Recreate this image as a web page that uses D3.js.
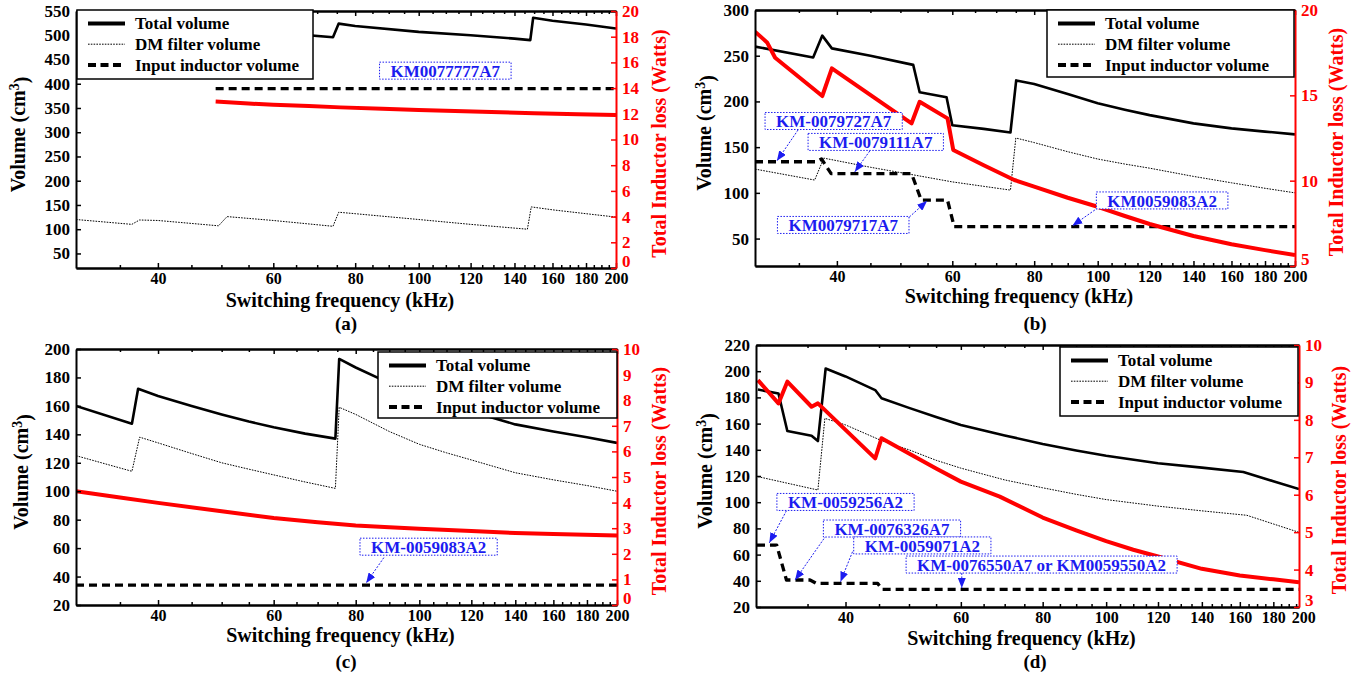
<!DOCTYPE html>
<html>
<head>
<meta charset="utf-8">
<script src="https://cdn.jsdelivr.net/npm/d3@7"></script>
<style>
  body { margin: 0; background: #fff; }
  text { font-family: "Liberation Serif", "Times New Roman", serif; font-weight: bold; }
</style>
</head>
<body>
<div id="chart"></div>
<script>
var svgWidth = 1361;
var svgHeight = 675;

// shared labels
var xTicks = [40, 60, 80, 100, 120, 140, 160, 180, 200];
var legendLabels = ["Total volume", "DM filter volume", "Input inductor volume"];
var xTitle = "Switching frequency (kHz)";
var rightTitle = "Total Inductor loss (Watts)";

// panel (a)  [kHz, cm3] / [kHz, W]
var aTotal = [[49, 497], [50.5, 516], [60, 506], [74, 496], [75.5, 524], [80, 519], [100, 507], [120, 500], [140, 493], [148, 490], [149.5, 536], [160, 530], [180, 522], [200, 514]];
var aDM = [[30, 120], [36.5, 110], [37.5, 119], [40, 118], [49.5, 107], [51, 126], [60, 118], [74, 106], [75.5, 135], [80, 132], [100, 120], [120, 110], [146.5, 100], [148.5, 146], [160, 140], [180, 132], [200, 125]];
var aInd = [[49, 390], [200, 390]];
var aLoss = [[49, 12.95], [55, 12.8], [60, 12.7], [68, 12.6], [76, 12.5], [88, 12.4], [100, 12.3], [125, 12.15], [150, 12.05], [175, 11.97], [200, 11.9]];
var aLeftTicks = [50, 100, 150, 200, 250, 300, 350, 400, 450, 500, 550];
var aRightTicks = [0, 2, 4, 6, 8, 10, 12, 14, 16, 18, 20];
var aNotes = ["KM0077777A7"];

// panel (b)
var bTotal = [[30, 260], [36.8, 248], [38, 272], [39.3, 258], [45, 250], [52.3, 240], [53.5, 210], [58.8, 204.6], [60, 174], [67, 170], [73.6, 166], [75.1, 223], [80, 219], [90, 208], [100, 198], [110, 191], [120, 185], [140, 176], [160, 170.5], [180, 167], [200, 164]];
var bDM = [[30, 126], [37, 114], [38.2, 138], [45, 128], [52.4, 119.6], [60, 112], [73.6, 103], [75, 160], [80, 155], [90, 145], [100, 137], [110, 131.5], [120, 127], [140, 118], [160, 111], [180, 105], [200, 100]];
var bInd = [[30, 134], [37.2, 134], [37.9, 137], [39.2, 121], [52, 121], [53.8, 92], [59, 92], [60.4, 63], [200, 63]];
var bLoss = [[30, 18.73], [31.3, 18.1], [32.2, 17.2], [38, 14.96], [39.3, 16.58], [52, 13.36], [53.5, 14.62], [59, 13.65], [60.2, 11.8], [67, 10.9], [74.6, 10.04], [80, 9.65], [90, 9.0], [100, 8.47], [110, 7.93], [120, 7.46], [140, 6.76], [160, 6.27], [180, 5.93], [200, 5.64]];
var bLeftTicks = [50, 100, 150, 200, 250, 300];
var bRightTicks = [5, 10, 15, 20];
var bNotes = ["KM-0079727A7", "KM-0079111A7", "KM0079717A7", "KM0059083A2"];

// panel (c)
var cTotal = [[30, 160], [36.5, 147.5], [37.3, 172], [40, 167], [45, 160], [50, 154], [55, 149], [60, 145], [67, 140.5], [74.5, 137], [75.5, 193], [80, 187], [90, 176], [100, 167], [110, 161], [120, 156], [140, 147], [160, 142], [180, 138], [200, 134]];
var cDM = [[30, 125], [36.5, 114], [37.5, 138], [40, 134], [45, 126.5], [50, 120], [55, 115.5], [60, 111.5], [67, 106.5], [74.5, 102], [75.5, 159], [80, 154], [90, 142], [100, 133], [110, 127], [120, 122], [140, 113], [160, 108], [180, 104], [200, 100]];
var cInd = [[30, 34], [200, 34]];
var cLoss = [[30, 4.44], [35, 4.2], [40, 3.99], [50, 3.66], [60, 3.4], [70, 3.23], [80, 3.11], [90, 3.04], [100, 2.98], [120, 2.89], [140, 2.81], [160, 2.77], [200, 2.71]];
var cLeftTicks = [20, 40, 60, 80, 100, 120, 140, 160, 180, 200];
var cRightTicks = [0, 1, 2, 3, 4, 5, 6, 7, 8, 9, 10];
var cNotes = ["KM-0059083A2"];

// panel (d)
var dTotal = [[29.4, 186], [31.6, 183], [32.6, 154.4], [35.5, 150.8], [36.3, 146.7], [37.3, 202], [40, 196], [44.4, 185.6], [45.4, 179.3], [50, 172], [55, 165], [60, 159], [70, 151], [80, 144.4], [90, 139.5], [100, 135.5], [120, 129.7], [140, 126.4], [162, 123], [180, 116], [197, 110]];
var dDM = [[29.4, 119.5], [36.3, 109.3], [37.2, 164], [40, 159], [45.4, 147], [50, 140], [55, 132], [60, 126], [70, 117], [80, 111], [90, 106], [100, 102], [120, 97], [140, 93.4], [164, 90], [197, 77]];
var dInd = [[29.3, 67.3], [31.4, 67.3], [32.5, 40.6], [35.3, 40.6], [36.1, 38], [44.8, 38], [45.5, 33.5], [197, 33.5]];
var dLoss = [[29.4, 9.06], [31.6, 8.44], [32.6, 9.02], [35.5, 8.35], [36.3, 8.44], [44.4, 6.97], [45.4, 7.51], [50, 7.1], [55, 6.7], [60, 6.35], [68.8, 5.95], [80, 5.39], [90, 5.05], [100, 4.76], [110, 4.53], [120, 4.35], [140, 4.02], [160, 3.84], [180, 3.74], [197, 3.66]];
var dLeftTicks = [20, 40, 60, 80, 100, 120, 140, 160, 180, 200, 220];
var dRightTicks = [3, 4, 5, 6, 7, 8, 9, 10];
var dNotes = ["KM-0059256A2", "KM-0076326A7", "KM-0059071A2", "KM-0076550A7 or KM0059550A2"];

var blue = "#1c1cf0";

// layout of each panel (pixels) and where the callouts sit (in data units)
var panels = [
  {name: "(a)", total: aTotal, dm: aDM, ind: aInd, loss: aLoss, leftTicks: aLeftTicks, rightTicks: aRightTicks, notes: aNotes,
   xDom: [30, 200], yDom: [20, 550], rDom: [0, 20], x0: 76, x1: 616, y0: 11, y1: 268,
   legend: [77, 10, 236, 69], leftTitleX: 18, rightTitleX: 659, xTitleY: 300, nameX: 346, nameY: 323,
   spots: [{box: [109.8, 427]}]},
  {name: "(b)", total: bTotal, dm: bDM, ind: bInd, loss: bLoss, leftTicks: bLeftTicks, rightTicks: bRightTicks, notes: bNotes,
   xDom: [30, 200], yDom: [20, 300], rDom: [5, 20], x0: 755, x1: 1295, y0: 10, y1: 266,
   legend: [1047, 10, 247, 67], leftTitleX: 704, rightTitleX: 1336, xTitleY: 296, nameX: 1035, nameY: 323,
   spots: [{box: [39.55, 178.6], from: [34.9, 168.8], to: [32.4, 135]},
           {box: [45.85, 155.7], from: [44.9, 145.8], to: [42.6, 123]},
           {box: [40.9, 64.9], from: [51.6, 73.6], to: [54.9, 91.1]},
           {box: [125.4, 91.7], from: [100, 83.5], to: [91.5, 64]}]},
  {name: "(c)", total: cTotal, dm: cDM, ind: cInd, loss: cLoss, leftTicks: cLeftTicks, rightTicks: cRightTicks, notes: cNotes,
   xDom: [30, 200], yDom: [20, 200], rDom: [0, 10], x0: 76, x1: 617, y0: 349, y1: 605,
   legend: [378, 352, 239, 66], leftTitleX: 21, rightTitleX: 659, xTitleY: 635, nameX: 346, nameY: 661,
   spots: [{box: [103.3, 61], from: [88.3, 53.3], to: [83, 35.5]}]},
  {name: "(d)", total: dTotal, dm: dDM, ind: dInd, loss: dLoss, leftTicks: dLeftTicks, rightTicks: dRightTicks, notes: dNotes,
   xDom: [29.2, 197], yDom: [20, 220], rDom: [3, 10], x0: 756, x1: 1299, y0: 345, y1: 607,
   legend: [1060, 347, 238, 69], leftTitleX: 705, rightTitleX: 1339, xTitleY: 638, nameX: 1035, nameY: 661,
   spots: [{box: [40.0, 100.2], from: [32.5, 93.5], to: [30.6, 69]},
           {box: [47.1, 79.9], from: [37.6, 76.5], to: [33.5, 40.6]},
           {box: [52.4, 67], from: [41.0, 62.2], to: [39.3, 39.3]},
           {box: [79.7, 52.4], from: [60.2, 46], to: [60.2, 34.5]}]}
];

var styles = {
  total: {width: 2.6, dash: null, legendWidth: 4},
  dm: {width: 1, dash: "1.6,1.2", legendWidth: 1},
  ind: {width: 3.3, dash: "8,5", legendWidth: 4}
};

var svg = d3.select("#chart")
  .append("svg")
  .attr("width", svgWidth)
  .attr("height", svgHeight);

svg.append("rect")
  .attr("width", svgWidth)
  .attr("height", svgHeight)
  .attr("fill", "white");

var defs = svg.append("defs");
defs.append("marker")
  .attr("id", "arrowHead")
  .attr("viewBox", "0 0 10 8")
  .attr("refX", 10)
  .attr("refY", 4)
  .attr("markerWidth", 10)
  .attr("markerHeight", 8)
  .attr("markerUnits", "userSpaceOnUse")
  .attr("orient", "auto")
  .append("path")
  .attr("d", "M0,0L10,4L0,8Z")
  .attr("fill", blue);

function styleAxis(g, color, size) {
  g.select(".domain").attr("stroke", color).attr("stroke-width", 2);
  g.selectAll(".tick line").attr("stroke", color).attr("stroke-width", 1.5);
  g.selectAll(".tick text")
    .attr("fill", color)
    .attr("font-size", (size || 17) + "px")
    .attr("font-family", "Liberation Serif, serif")
    .attr("font-weight", "bold");
}

panels.forEach(function(p, i) {
  var g = svg.append("g");
  var x = d3.scaleLog().domain(p.xDom).range([p.x0, p.x1]);
  var y = d3.scaleLinear().domain(p.yDom).range([p.y1, p.y0]);
  var yr = d3.scaleLinear().domain(p.rDom).range([p.y1, p.y0]);

  defs.append("clipPath").attr("id", "clip" + i)
    .append("rect")
    .attr("x", p.x0).attr("y", p.y0)
    .attr("width", p.x1 - p.x0).attr("height", p.y1 - p.y0);

  var plot = g.append("g").attr("clip-path", "url(#clip" + i + ")");

  var line = d3.line()
    .x(d => x(d[0]))
    .y(d => y(d[1]));
  var lossLine = d3.line()
    .x(d => x(d[0]))
    .y(d => yr(d[1]));

  ["dm", "ind", "total"].forEach(function(k) {
    plot.append("path")
      .attr("d", line(p[k]))
      .attr("fill", "none")
      .attr("stroke", "black")
      .attr("stroke-width", styles[k].width)
      .attr("stroke-dasharray", styles[k].dash)
      .attr("stroke-linejoin", "round");
  });

  plot.append("path")
    .attr("d", lossLine(p.loss))
    .attr("fill", "none")
    .attr("stroke", "#ff0000")
    .attr("stroke-width", 4)
    .attr("stroke-linejoin", "round");

  // axes
  var minor = d3.range(35, 200, 5).filter(v => v % 20 != 0);

  var bottom = g.append("g")
    .attr("transform", `translate(0, ${p.y1})`)
    .call(d3.axisBottom(x).tickValues(xTicks).tickFormat(d3.format("d")).tickSizeInner(-5).tickSizeOuter(0).tickPadding(5));
  bottom.selectAll(".tick").filter(d => x(d) > p.x1 + 1).select("line").remove();
  styleAxis(bottom, "black", 16);

  var bottomMinor = g.append("g")
    .attr("transform", `translate(0, ${p.y1})`)
    .call(d3.axisBottom(x).tickValues(minor).tickFormat("").tickSizeInner(-3).tickSizeOuter(0));
  styleAxis(bottomMinor, "black");

  var top = g.append("g")
    .attr("transform", `translate(0, ${p.y0})`)
    .call(d3.axisTop(x).tickValues(xTicks.filter(v => x(v) <= p.x1)).tickFormat("").tickSizeInner(-5).tickSizeOuter(0));
  styleAxis(top, "black");
  var topMinor = g.append("g")
    .attr("transform", `translate(0, ${p.y0})`)
    .call(d3.axisTop(x).tickValues(minor).tickFormat("").tickSizeInner(-3).tickSizeOuter(0));
  styleAxis(topMinor, "black");

  var left = g.append("g")
    .attr("transform", `translate(${p.x0}, 0)`)
    .call(d3.axisLeft(y).tickValues(p.leftTicks).tickFormat(d3.format("d")).tickSizeInner(-5).tickSizeOuter(0).tickPadding(6));
  styleAxis(left, "black");

  var right = g.append("g")
    .attr("transform", `translate(${p.x1}, 0)`)
    .call(d3.axisRight(yr).tickValues(p.rightTicks).tickFormat(d3.format("d")).tickSizeInner(-5).tickSizeOuter(0).tickPadding(6));
  styleAxis(right, "#ff0000");
  // lowest red label sits a little higher so it clears the 200 label
  right.selectAll(".tick text").filter(d => d == p.rDom[0]).attr("y", -7);

  // axis titles
  var midY = (p.y0 + p.y1) / 2;
  var lt = g.append("text")
    .attr("transform", `translate(${p.leftTitleX}, ${midY - 5}) rotate(-90)`)
    .attr("text-anchor", "middle")
    .attr("dy", "0.35em")
    .attr("font-size", "20px")
    .attr("fill", "black");
  lt.append("tspan").text("Volume (cm");
  lt.append("tspan").attr("dy", "-0.45em").attr("font-size", "14px").text("3");
  lt.append("tspan").attr("dy", "0.45em").text(")");

  g.append("text")
    .attr("transform", `translate(${p.rightTitleX}, ${midY + 4}) rotate(-90)`)
    .attr("text-anchor", "middle")
    .attr("dy", "0.35em")
    .attr("font-size", "20px")
    .attr("fill", "#ff0000")
    .text(rightTitle);

  g.append("text")
    .attr("x", (p.x0 + p.x1) / 2 - 6)
    .attr("y", p.xTitleY)
    .attr("dy", "0.35em")
    .attr("text-anchor", "middle")
    .attr("font-size", "20px")
    .text(xTitle);

  g.append("text")
    .attr("x", p.nameX)
    .attr("y", p.nameY)
    .attr("dy", "0.35em")
    .attr("text-anchor", "middle")
    .attr("font-size", "19px")
    .text(p.name);

  // legend
  var lg = g.append("g").attr("transform", `translate(${p.legend[0]}, ${p.legend[1]})`);
  lg.append("rect")
    .attr("width", p.legend[2])
    .attr("height", p.legend[3])
    .attr("fill", "white")
    .attr("stroke", "black")
    .attr("stroke-width", 1.5);
  ["total", "dm", "ind"].forEach(function(k, j) {
    var ry = 13.5 + j * 20.7;
    lg.append("line")
      .attr("x1", 11).attr("x2", 48)
      .attr("y1", ry).attr("y2", ry)
      .attr("stroke", "black")
      .attr("stroke-width", styles[k].legendWidth)
      .attr("stroke-dasharray", k == "ind" ? "8,4.5" : styles[k].dash);
    lg.append("text")
      .attr("x", 58)
      .attr("y", ry)
      .attr("dy", "0.35em")
      .attr("font-size", "17px")
      .text(legendLabels[j]);
  });

  // callouts
  p.notes.forEach(function(label, j) {
    var s = p.spots[j];
    if (s.from) {
      g.append("line")
        .attr("x1", x(s.from[0])).attr("y1", y(s.from[1]))
        .attr("x2", x(s.to[0])).attr("y2", y(s.to[1]))
        .attr("stroke", blue)
        .attr("stroke-width", 1)
        .attr("stroke-dasharray", "2,1.5")
        .attr("marker-end", "url(#arrowHead)");
    }
    var cx = x(s.box[0]), cy = y(s.box[1]);
    var box = g.append("rect")
      .attr("fill", "white")
      .attr("stroke", blue)
      .attr("stroke-width", 1)
      .attr("stroke-dasharray", "1.5,1.5");
    var t = g.append("text")
      .attr("x", cx)
      .attr("y", cy)
      .attr("dy", "0.36em")
      .attr("text-anchor", "middle")
      .attr("font-size", "17px")
      .attr("fill", blue)
      .text(label);
    var w = t.node().getComputedTextLength() + 22;
    box.attr("x", cx - w / 2).attr("y", cy - 8.5).attr("width", w).attr("height", 17);
  });
});
</script>
</body>
</html>
